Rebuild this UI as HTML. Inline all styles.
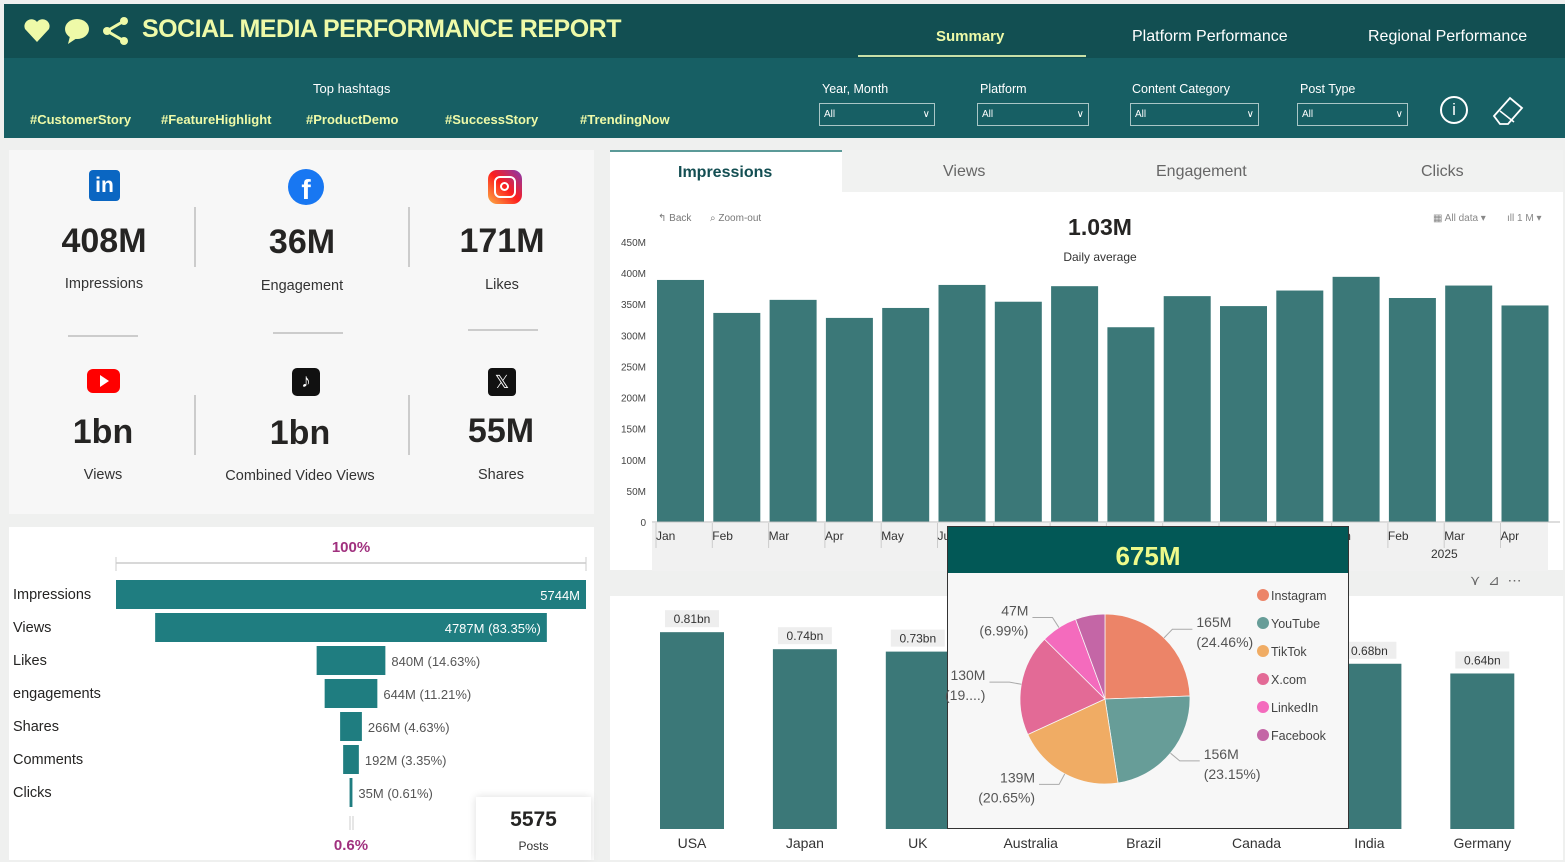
<!DOCTYPE html>
<html><head><meta charset="utf-8"><style>
*{box-sizing:border-box;margin:0;padding:0}
body{width:1565px;height:862px;overflow:hidden;background:#eff0ef;font-family:"Liberation Sans",sans-serif;position:relative;color:#333}
.abs{position:absolute}
.hdr{left:4px;top:4px;width:1561px;height:54px;background:#124f52}
.slc{left:4px;top:58px;width:1561px;height:80px;background:#175f64}
.title{left:142px;top:15px;font-size:25px;font-weight:bold;color:#eefaa8;letter-spacing:-0.5px}
.tab{top:28px;font-size:16px;color:#fff}
.tag{top:112px;font-size:13px;font-weight:bold;color:#eefaa8}
.sl-l{top:82px;font-size:12.5px;color:#fff}
.sl-b{top:103px;height:23px;border:1px solid #a9c6c6;font-size:10px;color:#fff;padding:5px 4px}
.kpi-n{font-size:34px;font-weight:bold;color:#252423;text-align:center;width:180px}
.kpi-l{font-size:14.5px;color:#333;text-align:center;width:180px}
.fl{left:13px;font-size:14.5px;color:#252423}
</style></head><body>
<div class="abs hdr"></div>
<div class="abs slc"></div>
<svg class="abs" style="left:22px;top:16px" width="110" height="30">
<path d="M15 26 L3 13 A7 7 0 0 1 15 6 A7 7 0 0 1 27 13 Z" fill="#eefaa8"/>
<ellipse cx="55" cy="13" rx="12" ry="10" fill="#eefaa8"/><path d="M48 20 L46 28 L55 22Z" fill="#eefaa8"/>
<circle cx="102" cy="5" r="4" fill="#eefaa8"/><circle cx="85" cy="15" r="4" fill="#eefaa8"/><circle cx="102" cy="25" r="4" fill="#eefaa8"/>
<path d="M102 5 L85 15 L102 25" stroke="#eefaa8" stroke-width="3" fill="none"/></svg>
<div class="abs title">SOCIAL MEDIA PERFORMANCE REPORT</div>
<div class="abs tab" style="left:936px;font-weight:bold;color:#eefaa8;font-size:15px">Summary</div>
<div class="abs" style="left:858px;top:55px;width:228px;height:2px;background:#c8e0a8"></div>
<div class="abs tab" style="left:1132px">Platform Performance</div>
<div class="abs tab" style="left:1368px">Regional Performance</div>
<div class="abs" style="left:313px;top:81px;font-size:13px;color:#fff">Top hashtags</div>
<div class="abs tag" style="left:30px">#CustomerStory</div>
<div class="abs tag" style="left:161px">#FeatureHighlight</div>
<div class="abs tag" style="left:306px">#ProductDemo</div>
<div class="abs tag" style="left:445px">#SuccessStory</div>
<div class="abs tag" style="left:580px">#TrendingNow</div>
<div class="abs sl-l" style="left:822px">Year, Month</div>
<div class="abs sl-b" style="left:819px;width:116px">All<span style="float:right">&#8744;</span></div>
<div class="abs sl-l" style="left:980px">Platform</div>
<div class="abs sl-b" style="left:977px;width:112px">All<span style="float:right">&#8744;</span></div>
<div class="abs sl-l" style="left:1132px">Content Category</div>
<div class="abs sl-b" style="left:1130px;width:129px">All<span style="float:right">&#8744;</span></div>
<div class="abs sl-l" style="left:1300px">Post Type</div>
<div class="abs sl-b" style="left:1297px;width:111px">All<span style="float:right">&#8744;</span></div>
<div class="abs" style="left:1440px;top:96px;width:28px;height:28px;border:2px solid #fff;border-radius:50%;color:#fff;text-align:center;font-size:17px;line-height:24px">i</div>
<svg class="abs" style="left:1490px;top:94px" width="36" height="34"><path d="M4 22 L20 4 L32 14 L18 30 L10 30Z" fill="none" stroke="#fff" stroke-width="1.8"/><path d="M10 17 L24 28" stroke="#fff" stroke-width="1.5"/></svg>

<!-- KPI panel -->
<div class="abs" style="left:9px;top:150px;width:585px;height:364px;background:#f7f7f7"></div>
<div class="abs" style="left:89px;top:170px;width:31px;height:31px;background:#0a66c2;border-radius:4px;color:#fff;font-weight:bold;font-size:21px;text-align:center;line-height:31px">in</div>
<div class="abs" style="left:288px;top:169px;width:36px;height:36px;background:#1877f2;border-radius:50%;color:#fff;font-weight:bold;font-size:28px;text-align:center;line-height:42px">f</div>
<div class="abs" style="left:488px;top:170px;width:34px;height:34px;border-radius:9px;background:linear-gradient(45deg,#fcb045,#fd1d1d,#833ab4)"><div style="margin:6px;width:22px;height:22px;border:2.5px solid #fff;border-radius:6px"><div style="margin:4px;width:9px;height:9px;border:2.5px solid #fff;border-radius:50%"></div></div></div>
<div class="abs" style="left:87px;top:369px;width:33px;height:24px;background:#f00;border-radius:6px"><div style="margin:6px 0 0 13px;width:0;height:0;border-left:9px solid #fff;border-top:6px solid transparent;border-bottom:6px solid transparent"></div></div>
<div class="abs" style="left:292px;top:368px;width:28px;height:28px;background:#111;border-radius:5px;color:#fff;font-size:19px;text-align:center;line-height:28px">♪</div>
<div class="abs" style="left:488px;top:368px;width:28px;height:28px;background:#111;border-radius:4px;color:#fff;font-size:18px;text-align:center;line-height:28px">𝕏</div>
<div class="abs kpi-n" style="left:14px;top:222px">408M</div>
<div class="abs kpi-l" style="left:14px;top:276px">Impressions</div>
<div class="abs kpi-n" style="left:212px;top:223px">36M</div>
<div class="abs kpi-l" style="left:212px;top:278px">Engagement</div>
<div class="abs kpi-n" style="left:412px;top:222px">171M</div>
<div class="abs kpi-l" style="left:412px;top:277px">Likes</div>
<div class="abs kpi-n" style="left:13px;top:413px">1bn</div>
<div class="abs kpi-l" style="left:13px;top:467px">Views</div>
<div class="abs kpi-n" style="left:210px;top:414px">1bn</div>
<div class="abs kpi-l" style="left:200px;top:468px;width:200px">Combined Video Views</div>
<div class="abs kpi-n" style="left:411px;top:412px">55M</div>
<div class="abs kpi-l" style="left:411px;top:467px">Shares</div>
<div class="abs" style="left:194px;top:207px;width:2px;height:60px;background:#ccc"></div>
<div class="abs" style="left:408px;top:207px;width:2px;height:60px;background:#ccc"></div>
<div class="abs" style="left:194px;top:395px;width:2px;height:60px;background:#ccc"></div>
<div class="abs" style="left:408px;top:395px;width:2px;height:60px;background:#ccc"></div>
<div class="abs" style="left:68px;top:335px;width:70px;height:2px;background:#ccc"></div>
<div class="abs" style="left:273px;top:332px;width:70px;height:2px;background:#ccc"></div>
<div class="abs" style="left:468px;top:329px;width:70px;height:2px;background:#ccc"></div>

<!-- Funnel panel -->
<div class="abs" style="left:9px;top:527px;width:585px;height:333px;background:#fff"></div>
<svg class="abs" style="left:0;top:0" width="600" height="862" id="funnel"></svg>
<div class="abs" style="left:476px;top:797px;width:115px;height:63px;background:#fff;box-shadow:0 0 8px #ddd;text-align:center"><div style="font-size:21px;font-weight:bold;color:#252423;margin-top:11px">5575</div><div style="font-size:12px;margin-top:7px">Posts</div></div>

<!-- Right top -->
<div class="abs" style="left:610px;top:150px;width:953px;height:420px;background:#fff"></div>
<div class="abs" style="left:842px;top:150px;width:721px;height:42px;background:#f1f2f1"></div>
<div class="abs" style="left:610px;top:150px;width:232px;height:2px;background:#5b9a98"></div>
<div class="abs" style="left:678px;top:164px;font-size:16px;font-weight:bold;color:#134e52">Impressions</div>
<div class="abs" style="left:943px;top:163px;font-size:16px;color:#666">Views</div>
<div class="abs" style="left:1156px;top:163px;font-size:16px;color:#666">Engagement</div>
<div class="abs" style="left:1421px;top:163px;font-size:16px;color:#666">Clicks</div>
<div class="abs" style="left:658px;top:213px;font-size:10px;color:#777">↰ Back</div>
<div class="abs" style="left:710px;top:213px;font-size:10px;color:#777">⌕ Zoom-out</div>
<div class="abs" style="left:1433px;top:213px;font-size:10px;color:#888">▦ All data ▾</div>
<div class="abs" style="left:1507px;top:213px;font-size:10px;color:#888">ıll 1 M ▾</div>
<div class="abs" style="left:1050px;top:214px;width:100px;text-align:center;font-size:23px;font-weight:bold;color:#252423">1.03M</div>
<div class="abs" style="left:1040px;top:250px;width:120px;text-align:center;font-size:12px;color:#333">Daily average</div>
<div class="abs" style="left:652px;top:523px;width:896px;height:48px;background:#f1f1f1"></div>
<svg class="abs" style="left:0;top:0" width="1565" height="862" id="trend"></svg>

<!-- Right bottom -->
<div class="abs" style="left:610px;top:596px;width:953px;height:264px;background:#fff"></div>
<svg class="abs" style="left:0;top:0" width="1565" height="862" id="country"></svg>
<div class="abs" style="left:1470px;top:572px;font-size:14px;color:#666">⋎ &nbsp;⊿ &nbsp;⋯</div>

<!-- Pie tooltip -->
<div class="abs" style="left:947px;top:526px;width:402px;height:303px;background:#f7f7f7;border:1px solid #333"></div>
<div class="abs" style="left:948px;top:527px;width:400px;height:46px;background:#025856;color:#eefa8a;font-size:26px;font-weight:bold;text-align:center;line-height:58px">675M</div>
<svg class="abs" style="left:0;top:0" width="1565" height="862" id="pie"></svg>

<script>
const NS='http://www.w3.org/2000/svg';
function mk(p,t,a,txt){const e=document.createElementNS(NS,t);for(const k in a)e.setAttribute(k,a[k]);if(txt!==undefined)e.textContent=txt;p.appendChild(e);return e;}

// Monthly impressions
const months=['Jan','Feb','Mar','Apr','May','Jun','Jul','Aug','Sep','Oct','Nov','Dec','Jan','Feb','Mar','Apr'];
const impressions=[389,336,357,328,344,381,354,379,313,363,347,372,394,360,380,348];
const yTicks=[0,50,100,150,200,250,300,350,400,450];
const yTickLabels=['0','50M','100M','150M','200M','250M','300M','350M','400M','450M'];
// Countries
const countries=['USA','Japan','UK','Australia','Brazil','Canada','India','Germany'];
const countryVals=[0.81,0.74,0.73,0.72,0.70,0.69,0.68,0.64];
const countryLabels=['0.81bn','0.74bn','0.73bn','0.72bn','0.70bn','0.69bn','0.68bn','0.64bn'];
// Funnel
const stages=['Impressions','Views','Likes','engagements','Shares','Comments','Clicks'];
const stageVals=[5744,4787,840,644,266,192,35];
const stageLabels=['5744M','4787M (83.35%)','840M (14.63%)','644M (11.21%)','266M (4.63%)','192M (3.35%)','35M (0.61%)'];
// Pie
const platforms=['Instagram','YouTube','TikTok','X.com','LinkedIn','Facebook'];
const platformVals=[165,156,139,130,47,38];
const platformLabels=[['165M','(24.46%)'],['156M','(23.15%)'],['139M','(20.65%)'],['130M','(19....)'],['47M','(6.99%)'],null];
const platformColors=['#ec8468','#679d98','#f0ac64','#e36a96','#f46bbd','#c466a6'];

// trend chart
(function(){
 const s=document.getElementById('trend');
 const y0=522,ppu=280/450,x0=655,step=56.3,bw=47;
 const Y=v=>y0-v*ppu, X=i=>x0+i*step;
 yTicks.forEach((t,i)=>{
  const l=mk(s,'text',{x:646,y:Y(t)+4,'text-anchor':'end','font-size':10,fill:'#444'},yTickLabels[i]);
  
  
 });
 impressions.forEach((v,i)=>{
  const r=mk(s,'rect',{x:X(i)+2,y:Y(v),width:bw,height:v*ppu,fill:'#3b7878'});
  
  
  mk(s,'line',{x1:X(i)+1,x2:X(i)+1,y1:523,y2:548,stroke:'#ccc'});
  const t=mk(s,'text',{x:X(i)+1,y:540,'font-size':12,fill:'#333'},months[i]);
  
  
 });
 mk(s,'line',{x1:652,x2:1560,y1:522,y2:522,stroke:'#bbb'});
 const yr=mk(s,'text',{x:1431,y:558,'font-size':12,fill:'#333'},'2025');
 
 
})();

// country chart
(function(){
 const s=document.getElementById('country');
 const base=829,ppu=243,c0=692,step=112.9,bw=64;
 countries.forEach((c,i)=>{
  const cx=c0+i*step,h=countryVals[i]*ppu;
  const r=mk(s,'rect',{x:cx-bw/2,y:base-h,width:bw,height:h,fill:'#3b7878'});
  
  
  mk(s,'rect',{x:cx-27,y:base-h-22,width:54,height:17,fill:'#eee'});
  const lb=mk(s,'text',{x:cx,y:base-h-9,'text-anchor':'middle','font-size':12,fill:'#333'},countryLabels[i]);
  
  
  const t=mk(s,'text',{x:cx,y:848,'text-anchor':'middle','font-size':14,fill:'#333'},c);
  
  
 });
})();

// funnel
(function(){
 const s=document.getElementById('funnel');
 const cx=351,full=470,top=580,step=33,bh=29,mx=stageVals[0];
 mk(s,'line',{x1:116,x2:586,y1:563,y2:563,stroke:'#ccc','stroke-width':1.5});
 mk(s,'line',{x1:116,x2:116,y1:557,y2:571,stroke:'#ccc'});
 mk(s,'line',{x1:586,x2:586,y1:557,y2:571,stroke:'#ccc'});
 const p1=mk(s,'text',{x:351,y:552,'text-anchor':'middle','font-size':15,'font-weight':'bold',fill:'#a0307e'},'100%');
 
 
 stages.forEach((st,i)=>{
  const w=Math.max(2,stageVals[i]/mx*full),y=top+i*step;
  const r=mk(s,'rect',{x:cx-w/2,y:y,width:w,height:bh,fill:'#1f7d80'});
  
  
  const l=mk(s,'text',{x:13,y:y+19,'font-size':14.5,fill:'#252423'},st);
  
  
  const inside=w>200;
  const v=mk(s,'text',{x:inside?cx+w/2-6:cx+w/2+6,y:y+20,'text-anchor':inside?'end':'start','font-size':13,fill:inside?'#fff':'#555'},stageLabels[i]);
  
  
 });
 mk(s,'line',{x1:350,x2:350,y1:816,y2:830,stroke:'#ccc'});mk(s,'line',{x1:353,x2:353,y1:816,y2:830,stroke:'#ccc'});
 const p2=mk(s,'text',{x:351,y:850,'text-anchor':'middle','font-size':15,'font-weight':'bold',fill:'#a0307e'},'0.6%');
 
 
})();

// pie
(function(){
 const s=document.getElementById('pie');
 const cx=1105,cy=699,r=85,tot=platformVals.reduce((a,b)=>a+b,0);
 let a=-Math.PI/2;
 platformVals.forEach((v,i)=>{
  const a2=a+v/tot*2*Math.PI,lg=(a2-a)>Math.PI?1:0;
  const d=`M${cx},${cy} L${cx+r*Math.cos(a)},${cy+r*Math.sin(a)} A${r},${r} 0 ${lg} 1 ${cx+r*Math.cos(a2)},${cy+r*Math.sin(a2)} Z`;
  const p=mk(s,'path',{d:d,fill:platformColors[i],stroke:'#f7f7f7','stroke-width':0.8});
  
  
  const m=(a+a2)/2;
  if(platformLabels[i]){
   const ex=cx+(r+12)*Math.cos(m),ey=cy+(r+12)*Math.sin(m),right=Math.cos(m)>0;
   const lx=ex+(right?20:-20);
   mk(s,'polyline',{points:`${cx+r*Math.cos(m)},${cy+r*Math.sin(m)} ${ex},${ey} ${lx},${ey}`,fill:'none',stroke:'#aaa'});
   const tx=right?lx+4:lx-4,anc=right?'start':'end',ty=ey-2;
   const t1=mk(s,'text',{x:tx,y:ty,'text-anchor':anc,'font-size':14,fill:'#555'},platformLabels[i][0]);
   
   
   mk(s,'text',{x:tx,y:ty+20,'text-anchor':anc,'font-size':14,fill:'#555'},platformLabels[i][1]);
  }
  a=a2;
  const le=mk(s,'circle',{cx:1263,cy:595+i*28,r:6,fill:platformColors[i]});
  
  
  const lt=mk(s,'text',{x:1271,y:600+i*28,'font-size':12.5,fill:'#444'},platforms[i]);
  
  
 });
})();
</script>
</body></html>
